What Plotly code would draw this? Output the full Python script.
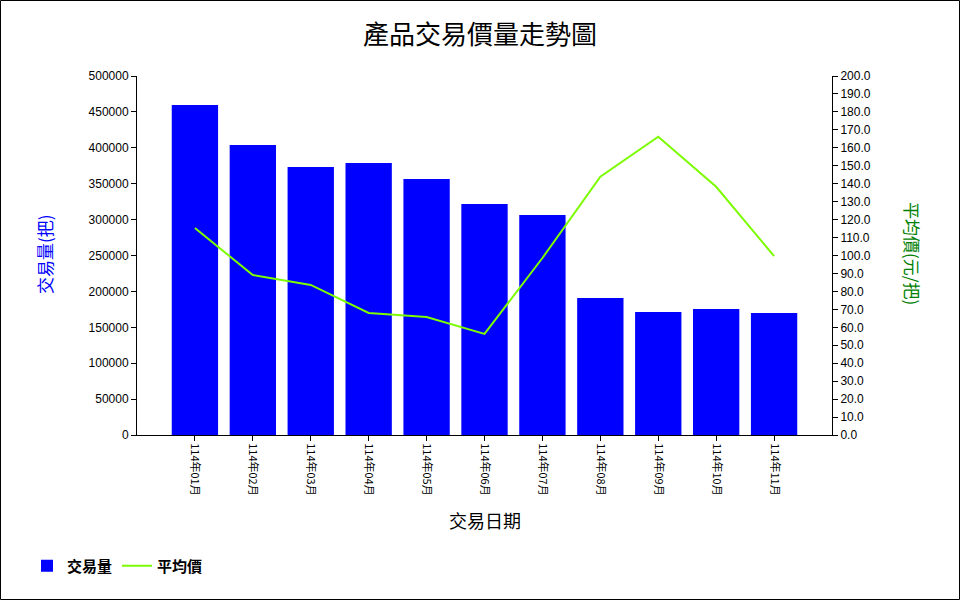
import plotly.graph_objects as go

months = ["114年01月", "114年02月", "114年03月", "114年04月", "114年05月", "114年06月",
          "114年07月", "114年08月", "114年09月", "114年10月", "114年11月"]
volume = [459600, 403900, 373300, 378800, 356600, 321700, 306400, 190800, 171300, 175500, 169900]
avg_price = [115.3, 89.1, 83.6, 68.0, 65.7, 56.3, 98.6, 143.9, 166.2, 138.3, 99.7]

W, H = 960, 600
L, R, T, B = 137, 128, 76, 165
pw, ph = W - L - R, H - T - B

def px(x):
    return (x - L) / pw

def py(y):
    return (H - B - y) / ph

cjk = "Noto Sans CJK TC"
lat = "Liberation Sans, Arial"

fig = go.Figure()
fig.add_trace(go.Bar(x=list(range(len(months))), y=volume, name="交易量",
                     marker=dict(color="#0000FF", line=dict(width=0)), width=0.8,
                     yaxis="y"))
fig.add_trace(go.Scatter(x=list(range(len(months))), y=avg_price, name="平均價",
                         mode="lines", line=dict(color="#7CFC00", width=2),
                         yaxis="y2"))

fig.update_layout(
    width=W, height=H,
    margin=dict(l=L, r=R, t=T, b=B),
    paper_bgcolor="white", plot_bgcolor="white",
    title=dict(text="產品交易價量走勢圖", x=0.5, xref="container", y=1 - 35 / H,
               yref="container", xanchor="center", yanchor="middle",
               font=dict(family=cjk, size=26, color="black")),
    xaxis=dict(range=[-1, 11], tickmode="array", tickvals=list(range(len(months))),
               ticktext=months, tickangle=90, ticks="outside", ticklen=5,
               tickcolor="black", showline=True, linecolor="black", linewidth=1,
               showgrid=False, zeroline=False,
               tickfont=dict(family=cjk, size=11, color="black")),
    yaxis=dict(range=[0, 500000], dtick=50000, tickformat="d", ticks="outside",
               ticklen=5, tickcolor="black", showline=True, linecolor="black",
               showgrid=False, zeroline=False,
               tickfont=dict(family=lat, size=12, color="black")),
    yaxis2=dict(range=[0, 200], dtick=10, tickformat=".1f", ticks="outside",
                ticklen=5, tickcolor="black", showline=True, linecolor="black",
                showgrid=False, zeroline=False, overlaying="y", side="right",
                tickfont=dict(family=lat, size=12, color="black")),
    showlegend=True,
    legend=dict(orientation="h", xref="container", yref="container",
                x=27 / W, y=1 - 566 / H, xanchor="left", yanchor="middle",
                font=dict(family=cjk, size=15, color="black", weight="bold"),
                itemwidth=30, bgcolor="rgba(0,0,0,0)"),
    bargap=0.2,
    annotations=[
        dict(text="交易量(把)", x=px(45), y=py(254), xref="paper", yref="paper",
             showarrow=False, textangle=-90, xanchor="center", yanchor="middle",
             font=dict(family=cjk, size=17, color="#0000FF")),
        dict(text="平均價(元/把)", x=px(913), y=py(253), xref="paper", yref="paper",
             showarrow=False, textangle=90, xanchor="center", yanchor="middle",
             font=dict(family=cjk, size=17, color="#008000")),
        dict(text="交易日期", x=px(485), y=py(520), xref="paper", yref="paper",
             showarrow=False, xanchor="center", yanchor="middle",
             font=dict(family=cjk, size=18, color="black")),
    ],
    shapes=[
        dict(type="rect", xref="paper", yref="paper",
             x0=px(0.5), x1=px(W - 0.5), y0=py(H - 0.5), y1=py(0.5),
             line=dict(color="black", width=1), fillcolor="rgba(0,0,0,0)", layer="above"),
    ],
)

fig.write_html("out.html", config={"displayModeBar": False},
               post_script="document.body.style.margin='0';document.body.style.overflow='hidden';")
